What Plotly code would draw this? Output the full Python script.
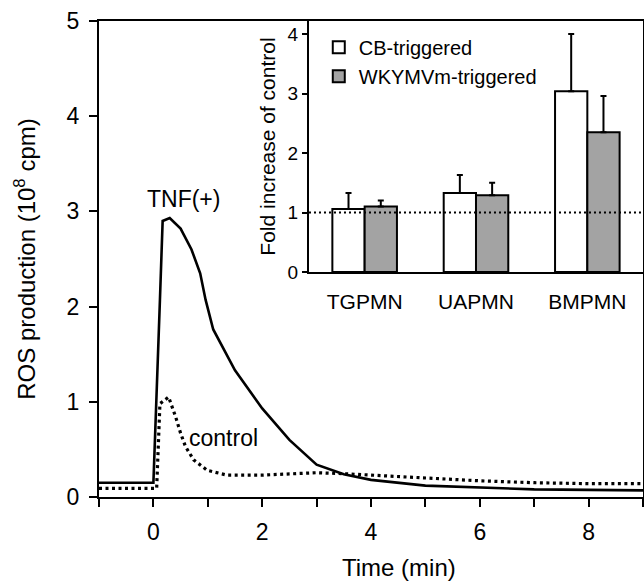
import plotly.graph_objects as go

# ---- main kinetic curves ----
time_tnf = [-1.0, 0.0, 0.12, 0.17, 0.3, 0.5, 0.7, 0.86, 0.96, 1.1, 1.5, 2.0, 2.5, 3.0, 3.5, 4.0, 5.0, 6.0, 7.0, 8.0, 9.0]
ros_tnf = [0.15, 0.15, 2.07, 2.9, 2.93, 2.82, 2.6, 2.35, 2.07, 1.76, 1.33, 0.93, 0.6, 0.34, 0.24, 0.18, 0.12, 0.1, 0.08, 0.075, 0.07]

time_ctrl = [-1.0, 0.06, 0.12, 0.28, 0.41, 0.5, 0.59, 0.74, 0.99, 1.35, 2.0, 2.5, 3.0, 3.5, 4.0, 5.0, 6.0, 7.0, 8.0, 9.0]
ros_ctrl = [0.09, 0.09, 0.98, 1.05, 0.84, 0.67, 0.53, 0.39, 0.28, 0.23, 0.23, 0.24, 0.255, 0.245, 0.23, 0.2, 0.17, 0.15, 0.14, 0.14]

x_tickvals = [0, 2, 4, 6, 8]
y_tickvals = [0, 1, 2, 3, 4, 5]

# ---- inset bars ----
cells = ['TGPMN', 'UAPMN', 'BMPMN']
cb_fold = [1.06, 1.33, 3.04]
cb_err = [0.27, 0.30, 0.96]
wky_fold = [1.10, 1.29, 2.35]
wky_err = [0.10, 0.21, 0.61]
inset_ticks = [0, 1, 2, 3, 4]
control_level = 1

FONT = "Liberation Sans, Arial, Helvetica, sans-serif"

fig = go.Figure()

fig.add_trace(go.Scatter(x=time_tnf, y=ros_tnf, mode='lines',
                         line=dict(color='black', width=2.6), showlegend=False,
                         xaxis='x', yaxis='y'))
fig.add_trace(go.Scatter(x=time_ctrl, y=ros_ctrl, mode='lines',
                         line=dict(color='black', width=3.2, dash='3px,3.5px'), showlegend=False,
                         xaxis='x', yaxis='y'))

fig.add_trace(go.Bar(x=cells, y=cb_fold, name='CB-triggered',
                     marker=dict(color='white', line=dict(color='black', width=2)),
                     error_y=dict(type='data', symmetric=False, array=cb_err,
                                  arrayminus=[0, 0, 0], color='black', thickness=2, width=3),
                     xaxis='x2', yaxis='y2'))
fig.add_trace(go.Bar(x=cells, y=wky_fold, name='WKYMVm-triggered',
                     marker=dict(color='#a3a3a3', line=dict(color='black', width=2)),
                     error_y=dict(type='data', symmetric=False, array=wky_err,
                                  arrayminus=[0, 0, 0], color='black', thickness=2, width=3),
                     xaxis='x2', yaxis='y2'))

fig.add_shape(type='line', xref='x2', yref='y2', x0=-0.5, x1=2.5,
              y0=control_level, y1=control_level,
              line=dict(color='black', width=2, dash='2px,3px'), layer='above')

fig.add_annotation(x=0.55, y=3.13, xref='x', yref='y', text='TNF(+)', showarrow=False,
                   font=dict(size=23, color='black', family=FONT))
fig.add_annotation(x=1.29, y=0.62, xref='x', yref='y', text='control', showarrow=False,
                   font=dict(size=23, color='black', family=FONT))
fig.add_annotation(x=0.5506, y=-0.149, xref='paper', yref='paper', yanchor='middle',
                   xanchor='center', text='Time (min)',
                   showarrow=False, font=dict(size=24, color='black', family=FONT))

fig.update_layout(
    width=644, height=582,
    margin=dict(l=99, r=1, t=21, b=85),
    paper_bgcolor='white', plot_bgcolor='white',
    font=dict(family=FONT, color='black'),
    barmode='group', bargap=0.42, bargroupgap=0,
    xaxis=dict(range=[-1, 9], tickvals=x_tickvals, automargin=False,
               ticks='outside', ticklen=8, tickwidth=2, tickcolor='black',
               minor=dict(tick0=-1, dtick=1, ticks='outside', ticklen=8, tickwidth=2,
                          tickcolor='black', showgrid=False),
               showline=True, linewidth=2, linecolor='black', mirror=True,
               showgrid=False, zeroline=False, ticklabelstandoff=5,
               tickfont=dict(size=23)),
    yaxis=dict(range=[0, 5], tickvals=y_tickvals, automargin=False,
               ticks='outside', ticklen=8, tickwidth=2, tickcolor='black',
               showline=True, linewidth=2, linecolor='black', mirror=True,
               showgrid=False, zeroline=False, ticklabelstandoff=5,
               tickfont=dict(size=23),
               title=dict(text='ROS production (10<sup>8</sup> cpm)', font=dict(size=24), standoff=24)),
    xaxis2=dict(domain=[0.386, 1.0], anchor='y2', range=[-0.5, 2.5], automargin=False,
                showline=True, linewidth=2, linecolor='black',
                ticks='outside', ticklen=10, tickcolor='rgba(0,0,0,0)',
                showgrid=False, zeroline=False, tickfont=dict(size=21)),
    yaxis2=dict(domain=[0.4727, 1.0], anchor='x2', range=[0, 4.22], tickvals=inset_ticks,
                automargin=False,
                showline=True, linewidth=2, linecolor='black',
                ticks='outside', ticklen=5, tickwidth=2, tickcolor='black',
                showgrid=False, zeroline=False, tickfont=dict(size=19),
                title=dict(text='Fold increase of control', font=dict(size=21), standoff=6)),
    legend=dict(x=0.404, y=0.986, xanchor='left', yanchor='top',
                bgcolor='rgba(0,0,0,0)', font=dict(size=20), tracegroupgap=0),
    showlegend=True,
)

fig.write_html("out.html", config={'displayModeBar': False},
               post_script="document.body.style.margin='0';document.body.style.padding='0';")
